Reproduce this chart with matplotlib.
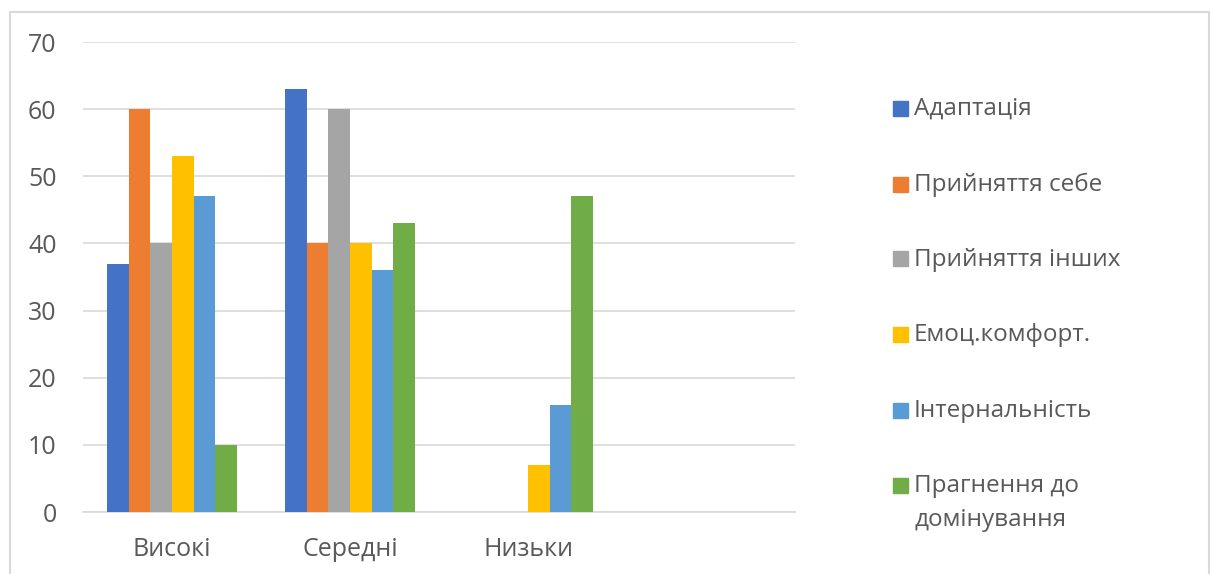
import matplotlib
matplotlib.use('Agg')
import matplotlib.pyplot as plt
from matplotlib.patches import Rectangle
import numpy as np

plt.rcParams['font.family'] = ['Open Sans', 'DejaVu Sans']

categories = ['Високі', 'Середні', 'Низьки', '']
series = ['Адаптація', 'Прийняття себе', 'Прийняття інших',
          'Емоц.комфорт.', 'Інтернальність', 'Прагнення до\nдомінування']
adaptation = [37, 63, 0, 0]
self_accept = [60, 40, 0, 0]
others_accept = [40, 60, 0, 0]
emo_comfort = [53, 40, 7, 0]
internality = [47, 36, 16, 0]
dominance = [10, 43, 47, 0]
colors = ['#4472C4', '#ED7D31', '#A5A5A5', '#FFC000', '#5B9BD5', '#70AD47']

values = [adaptation, self_accept, others_accept, emo_comfort, internality, dominance]
text_color = '#595959'

fig = plt.figure(figsize=(12.11, 5.74), dpi=100)
ax = fig.add_axes([83 / 1211, 62 / 574, 712 / 1211, 470 / 574])

x = np.arange(len(categories))
width = 0.121
for i, (vals, col) in enumerate(zip(values, colors)):
    ax.bar(x + (i - 2.5) * width, vals, width, color=col, zorder=3)

ax.set_xlim(-0.5, len(categories) - 0.5)
ax.set_ylim(0, 70)
ax.set_yticks(range(0, 71, 10))
ax.set_xticks(x)
ax.set_xticklabels(categories)
ax.grid(axis='y', color='#d9d9d9', linewidth=1.2, zorder=0)
for side in ['top', 'right', 'left']:
    ax.spines[side].set_visible(False)
ax.spines['bottom'].set_color('#d9d9d9')
ax.spines['bottom'].set_linewidth(1.2)
ax.tick_params(axis='both', length=0, labelsize=18, colors=text_color)
ax.tick_params(axis='y', pad=19)
ax.tick_params(axis='x', pad=18)

# legend built by hand so the swatch sits on the first line of text
row_y = [108, 184, 259, 334, 410, 485]
for name, col, yy in zip(series, colors, row_y):
    fy = 1 - yy / 574
    fig.patches.append(Rectangle((893 / 1211, fy - 7.5 / 574), 15 / 1211, 15 / 574,
                                 transform=fig.transFigure, color=col))
    fig.text(914 / 1211, fy + 11 / 574, name, fontsize=17.5, color=text_color,
             va='top', ha='left', linespacing=1.55)

# chart frame
fig.patches.append(Rectangle((10 / 1211, -0.01), 1199 / 1211, 1 - 12 / 574 + 0.01,
                             transform=fig.transFigure, fill=False,
                             edgecolor='#d9d9d9', linewidth=1.5))

fig.savefig('out.png', dpi=100)
